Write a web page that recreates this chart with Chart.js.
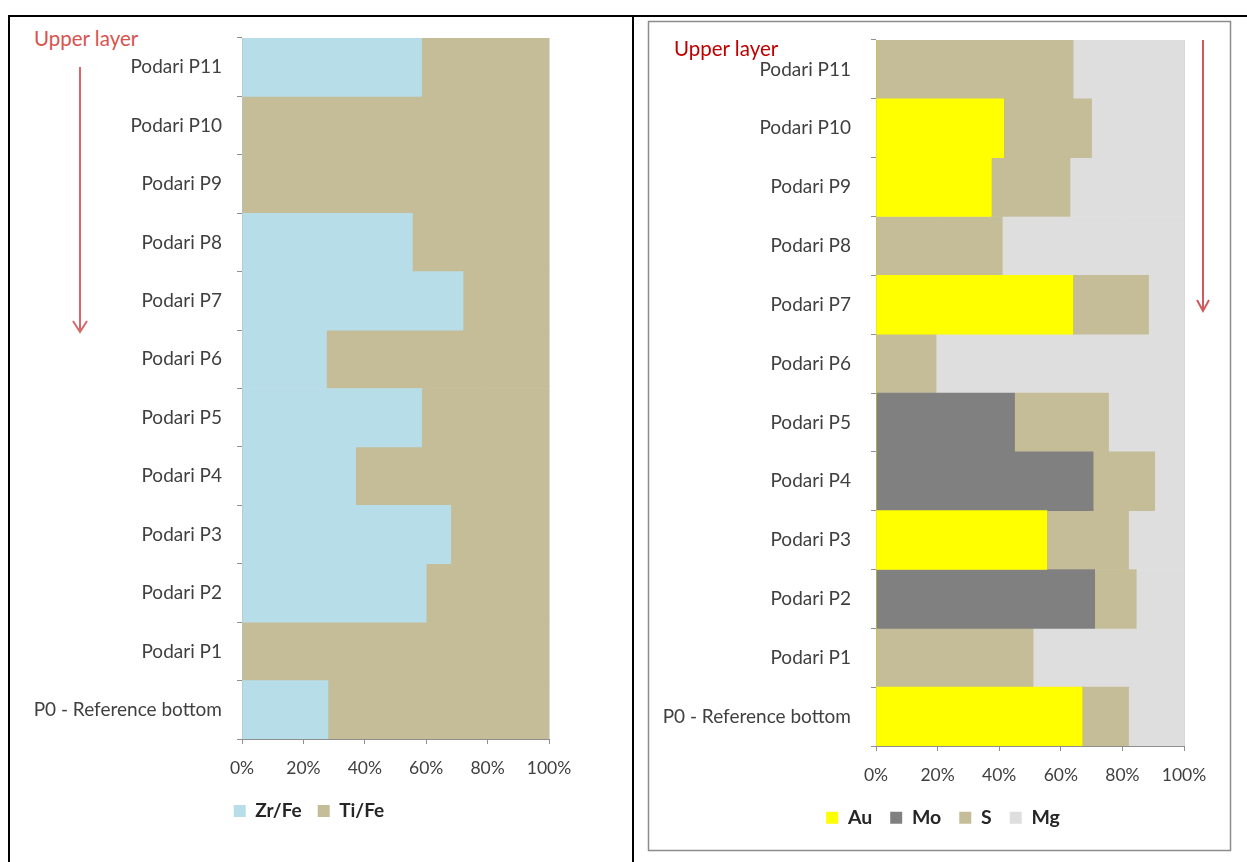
<!DOCTYPE html>
<html>
<head>
<meta charset="utf-8">
<script src="https://cdn.jsdelivr.net/npm/chart.js@4.4.1/dist/chart.umd.min.js"></script>
<style>
  body { margin: 0; background: #fff; width: 1247px; height: 862px; overflow: hidden; position: relative; font-family: Lato, sans-serif; }
  .box { position: absolute; }
  .upper { position: absolute; font-size: 20.5px; line-height: 22px; white-space: nowrap; }
  #frame { position: absolute; left: 0; top: 0; }
</style>
</head>
<body>
<svg id="frame" width="1247" height="862">
  <!-- table borders -->
  <line x1="8" y1="16" x2="1247" y2="16" stroke="#000" stroke-width="2"/>
  <line x1="9" y1="16" x2="9" y2="862" stroke="#000" stroke-width="2"/>
  <line x1="633" y1="16" x2="633" y2="862" stroke="#000" stroke-width="2"/>
  <!-- right chart frame -->
  <rect x="648.5" y="21.5" width="582" height="829" fill="none" stroke="#8c8c8c" stroke-width="1.5"/>
  <!-- arrows -->
  <g stroke="#d9666a" stroke-width="2" fill="none">
    <line x1="80" y1="67" x2="80" y2="332"/>
    <polyline points="73,321 80,332 87,321"/>
  </g>
  <g stroke="#d05a5a" stroke-width="2" fill="none">
    <line x1="1203" y1="40" x2="1203" y2="311"/>
    <polyline points="1197,300 1203,311 1209,300"/>
  </g>
</svg>
<div class="upper" style="left:34px; top:27px; color:#d9534f;">Upper layer</div>
<div class="box" style="left:10px; top:20px;"><canvas id="leftChart" width="620" height="840"></canvas></div>
<div class="box" style="left:650px; top:22px;"><canvas id="rightChart" width="578" height="826"></canvas></div>
<div class="upper" style="left:674px; top:37px; color:#c00000;">Upper layer</div>

<script>
// categorias, de cima para baixo
const categories = ['Podari P11', 'Podari P10', 'Podari P9', 'Podari P8', 'Podari P7', 'Podari P6',
                    'Podari P5', 'Podari P4', 'Podari P3', 'Podari P2', 'Podari P1', 'P0 - Reference bottom'];

// grafico esquerdo (%)
const zrFe = [58.5, 0, 0, 55.5, 72, 27.5, 58.5, 37, 68, 60, 0, 28];
const tiFe = [41.5, 100, 100, 44.5, 28, 72.5, 41.5, 63, 32, 40, 100, 72];

// grafico direito (%)
const au = [0, 41.5, 37.5, 0, 64, 0, 0, 0, 55.5, 0, 0, 67];
const mo = [0, 0, 0, 0, 0, 0, 45, 70.5, 0, 71, 0, 0];
const s  = [64, 28.5, 25.5, 41, 24.5, 19.5, 30.5, 20, 26.5, 13.5, 51, 15];
const mg = [36, 30, 37, 59, 11.5, 80.5, 24.5, 9.5, 18, 15.5, 49, 18];

const xTicks = [0, 20, 40, 60, 80, 100];

Chart.defaults.font.family = 'Lato';
Chart.defaults.animation = false;

// desloca a legenda na horizontal
const legendShift = {
    id: 'legendShift',
    afterLayout(chart, args, opts) {
        chart.legend.left += opts.dx;
        chart.legend.right += opts.dx;
    }
};

function buildChart(canvasId, datasets, cfg) {
    const ctx = document.getElementById(canvasId).getContext('2d');
    return new Chart(ctx, {
        type: 'bar',
        data: { labels: categories, datasets: datasets },
        plugins: [legendShift],
        options: {
            indexAxis: 'y',
            responsive: false,
            layout: { padding: { top: 18, right: cfg.right, left: 0, bottom: cfg.bottom } },
            datasets: { bar: { categoryPercentage: 1, barPercentage: 1, borderWidth: 0 } },
            plugins: {
                tooltip: { enabled: false },
                legendShift: { dx: cfg.dx },
                legend: {
                    position: 'bottom',
                    labels: {
                        boxWidth: 12, boxHeight: 12, padding: cfg.legendPad,
                        color: '#262626',
                        font: { size: cfg.legendSize, weight: 'bold' }
                    }
                }
            },
            scales: {
                x: {
                    stacked: true, min: 0, max: 100,
                    afterBuildTicks: axis => { axis.ticks = xTicks.map(v => ({ value: v })); },
                    afterFit: axis => { axis.height = cfg.xHeight; },
                    grid: { color: '#d9d9d9', tickColor: '#8f8f8f', tickLength: 5 },
                    border: { color: '#8f8f8f' },
                    ticks: { padding: cfg.xPad, color: '#404040', font: { size: 17.5 }, callback: v => v + '%' }
                },
                y: {
                    stacked: true,
                    afterFit: axis => {
                        axis.width = cfg.yWidth;
                        axis.paddingTop = 0;
                        axis.paddingBottom = 0;
                    },
                    grid: { drawOnChartArea: false, tickColor: '#8f8f8f', tickLength: 5 },
                    border: { color: '#8f8f8f' },
                    ticks: { padding: cfg.yPad, color: '#404040', font: { size: cfg.catSize } }
                }
            }
        }
    });
}

buildChart('leftChart', [
    { label: 'Zr/Fe', data: zrFe, backgroundColor: '#b7dde8' },
    { label: 'Ti/Fe', data: tiFe, backgroundColor: '#c4bd97' }
], { right: 81, bottom: 29.5, yWidth: 232, xHeight: 46.5, xPad: 14, yPad: 15,
     catSize: 19, legendSize: 19, legendPad: 16, dx: 29.5 });

buildChart('rightChart', [
    { label: 'Au', data: au, backgroundColor: '#ffff00' },
    { label: 'Mo', data: mo, backgroundColor: '#808080' },
    { label: 'S',  data: s,  backgroundColor: '#c4bd97' },
    { label: 'Mg', data: mg, backgroundColor: '#dedede' }
], { right: 44, bottom: 10.5, yWidth: 226, xHeight: 44, xPad: 14, yPad: 20,
     catSize: 19, legendSize: 19.5, legendPad: 18, dx: 26 });
</script>
</body>
</html>
